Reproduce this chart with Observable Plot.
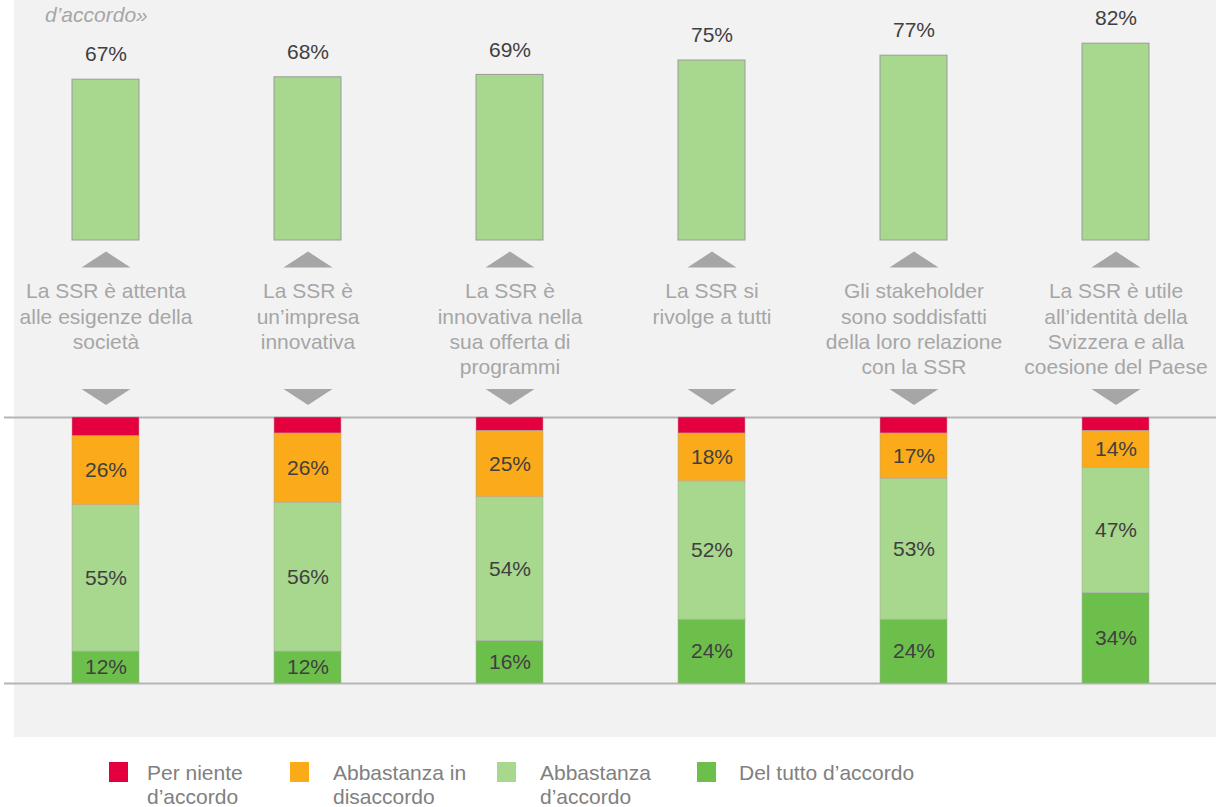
<!DOCTYPE html>
<html>
<head>
<meta charset="utf-8">
<script src="https://cdn.jsdelivr.net/npm/d3@7"></script>
<script src="https://cdn.jsdelivr.net/npm/@observablehq/plot@0.6"></script>
<style>
  body { margin: 0; background: #fff; font-family: "Liberation Sans", Arial, sans-serif; }
  #wrap { position: relative; width: 1216px; height: 807px; overflow: hidden; }
  #panel { position: absolute; left: 14px; top: 0; width: 1202px; height: 737px; background: #f2f2f2; }
  #charts { position: absolute; left: 0; top: 0; width: 1216px; }
  #charts svg { display: block; }
  #title { position: absolute; left: 45px; top: 3px; font-style: italic; font-size: 21px; color: #a6a6a6; line-height: 24px; }
  .lg { position: absolute; top: 761px; font-size: 21px; line-height: 24px; color: #808080; white-space: pre; }
  .sw { position: absolute; top: 762px; width: 19px; height: 20px; }
</style>
</head>
<body>
<div id="wrap">
  <div id="panel"></div>
  <div id="charts"></div>
  <div id="title"></div>
  <div id="legend"></div>
</div>
<script>
// ---- data ----
const titleText = "d’accordo»";
const categories = [
  "La SSR è attenta alle esigenze della società",
  "La SSR è un’impresa innovativa",
  "La SSR è innovativa nella sua offerta di programmi",
  "La SSR si rivolge a tutti",
  "Gli stakeholder sono soddisfatti della loro relazione con la SSR",
  "La SSR è utile all’identità della Svizzera e alla coesione del Paese"
];
const categoryLines = [
  "La SSR è attenta\nalle esigenze della\nsocietà",
  "La SSR è\nun’impresa\ninnovativa",
  "La SSR è\ninnovativa nella\nsua offerta di\nprogrammi",
  "La SSR si\nrivolge a tutti",
  "Gli stakeholder\nsono soddisfatti\ndella loro relazione\ncon la SSR",
  "La SSR è utile\nall’identità della\nSvizzera e alla\ncoesione del Paese"
];
const agreeTotal = [67, 68, 69, 75, 77, 82];

// stacked levels, bottom to top
const levels = ["Del tutto d’accordo", "Abbastanza d’accordo", "Abbastanza in disaccordo", "Per niente d’accordo"];
const levelColors = ["#6dbf4b", "#a8d78e", "#fbaa19", "#e4003f"];
const delTutto = [12, 12, 16, 24, 24, 34];
const abbastanzaAccordo = [55, 56, 54, 52, 53, 47];
const abbastanzaDisaccordo = [26, 26, 25, 18, 17, 14];
const perNiente = [7, 6, 5, 6, 6, 5];

// legend order (left to right)
const legendOrder = ["Per niente d’accordo", "Abbastanza in disaccordo", "Abbastanza d’accordo", "Del tutto d’accordo"];
const legendLines = ["Per niente\nd’accordo", "Abbastanza in\ndisaccordo", "Abbastanza\nd’accordo", "Del tutto d’accordo"];

// ---- build tables ----
const topData = categories.map((c, i) => ({cat: c, value: agreeTotal[i]}));
const labelData = categories.map((c, i) => ({cat: c, lines: categoryLines[i]}));
const series = [delTutto, abbastanzaAccordo, abbastanzaDisaccordo, perNiente];
const stackData = [];
categories.forEach((c, i) => {
  levels.forEach((l, j) => stackData.push({cat: c, level: l, value: series[j][i]}));
});
const textData = stackData.filter(d => d.level !== levels[3]);

const font = '"Liberation Sans", Arial, sans-serif';
const xOpts = {domain: categories, paddingInner: 0.668, paddingOuter: 0.3, axis: null};

// flat triangles as custom symbols
const triUp = {draw(ctx, size) { const r = Math.sqrt(size / Math.PI);
  ctx.moveTo(-2.45 * r, 0.8 * r); ctx.lineTo(2.45 * r, 0.8 * r); ctx.lineTo(0, -0.8 * r); ctx.closePath(); }};
const triDown = {draw(ctx, size) { const r = Math.sqrt(size / Math.PI);
  ctx.moveTo(-2.45 * r, -0.8 * r); ctx.lineTo(2.45 * r, -0.8 * r); ctx.lineTo(0, 0.8 * r); ctx.closePath(); }};

const plotA = Plot.plot({
  width: 1216, height: 410,
  marginLeft: 11, marginRight: 6, marginTop: 0, marginBottom: 170,
  x: xOpts,
  y: {domain: [0, 100], axis: null},
  style: {background: "transparent", fontFamily: font, fontSize: "21px", overflow: "visible"},
  marks: [
    Plot.barY(topData, {x: "cat", y: "value", fill: "#a8d78e", stroke: "#9a9a9a", strokeWidth: 1}),
    Plot.text(topData, {x: "cat", y: "value", text: d => d.value + "%", dy: -25, fill: "#404040", fontSize: 21}),
    Plot.dot(categories, {x: d => d, frameAnchor: "bottom", dy: 19, symbol: triUp, r: 10, fill: "#a6a6a6", stroke: "none"}),
    Plot.dot(categories, {x: d => d, frameAnchor: "bottom", dy: 156.5, symbol: triDown, r: 10, fill: "#a6a6a6", stroke: "none"}),
    Plot.text(labelData, {x: "cat", text: "lines", frameAnchor: "bottom", lineAnchor: "top", dy: 40, lineHeight: 1.2, fill: "#a6a6a6", fontSize: 21})
  ]
});

const plotB = Plot.plot({
  width: 1216, height: 327,
  marginLeft: 11, marginRight: 6, marginTop: 7, marginBottom: 54,
  x: xOpts,
  y: {domain: [0, 100], axis: null},
  color: {domain: levels, range: levelColors},
  style: {background: "transparent", fontFamily: font, fontSize: "21px", overflow: "visible"},
  marks: [
    Plot.ruleY([0, 100], {stroke: "#b5b5b5", strokeWidth: 2, insetLeft: -7, insetRight: -6}),
    Plot.barY(stackData, {x: "cat", y: "value", fill: "level", order: levels, stroke: "#a9a9a9", strokeWidth: 0.5}),
    Plot.text(textData, Plot.stackY({x: "cat", y: "value", z: "level", order: levels, text: d => d.value + "%", fill: "#404040", fontSize: 21}))
  ]
});

const charts = document.getElementById("charts");
charts.appendChild(plotA);
charts.appendChild(plotB);

document.getElementById("title").textContent = titleText;

// legend
const legend = document.getElementById("legend");
const swX = [109, 290, 497, 697];
legendOrder.forEach((l, i) => {
  const sw = document.createElement("div");
  sw.className = "sw";
  sw.style.left = swX[i] + "px";
  sw.style.background = levelColors[levels.indexOf(l)];
  legend.appendChild(sw);
  const t = document.createElement("div");
  t.className = "lg";
  t.style.left = (swX[i] + 38 + (i === 1 ? 5 : i === 2 ? 5 : i === 3 ? 4 : 0)) + "px";
  t.textContent = legendLines[i];
  legend.appendChild(t);
});
</script>
</body>
</html>
